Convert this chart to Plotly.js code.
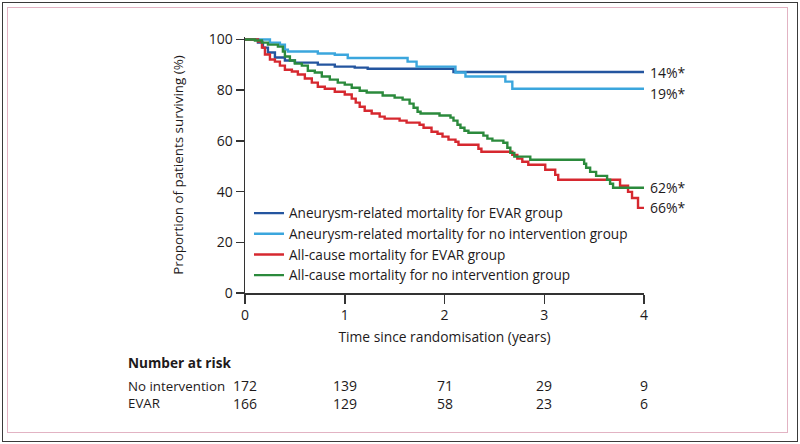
<!DOCTYPE html>
<html>
<head>
<meta charset="utf-8">
<script src="https://cdn.plot.ly/plotly-3.0.1.min.js"></script>
<style>
  html, body { margin: 0; padding: 0; background: #fff; }
  #wrap { position: relative; width: 800px; height: 444px; overflow: hidden; }
  #chart { position: absolute; left: 0; top: 0; width: 800px; height: 444px; }
  .frame { position: absolute; pointer-events: none; box-sizing: border-box; }
  #outer { left: 2px; top: 2px; width: 796px; height: 440px; border: 1.5px solid #3a3a3a; }
  #inner { left: 7px; top: 7px; width: 781px; height: 426px; border: 1.5px solid #e2b3c3; }
</style>
</head>
<body>
<div id="wrap">
  <div id="chart"></div>
  <div id="outer" class="frame"></div>
  <div id="inner" class="frame"></div>
</div>
<script>
// ---- Data ----
const seriesNames = [
  "Aneurysm-related mortality for EVAR group",
  "Aneurysm-related mortality for no intervention group",
  "All-cause mortality for EVAR group",
  "All-cause mortality for no intervention group"
];
const seriesColors = ["#24559f", "#3ba6dd", "#d6282f", "#2b8a3c"];

// Aneurysm-related, EVAR
const aneEvarT = [0, 0.13, 0.18, 0.23, 0.30, 0.40, 0.50, 0.73, 0.90, 1.10, 1.23, 2.09, 4];
const aneEvarS = [100, 98.8, 96.8, 94.9, 92.9, 91.7, 90.9, 90.1, 89.3, 88.9, 88.5, 87.2, 87.2];

// Aneurysm-related, no intervention
const aneNoT = [0, 0.25, 0.35, 0.40, 0.43, 0.73, 0.90, 1.03, 1.63, 1.72, 2.11, 2.21, 2.61, 2.68, 4];
const aneNoS = [100, 98.8, 98.0, 96.0, 95.3, 94.5, 94.0, 92.7, 91.3, 89.3, 87.0, 85.4, 83.4, 80.6, 80.6];

// All-cause, EVAR
const allEvarT = [0, 0.13, 0.17, 0.20, 0.25, 0.30, 0.35, 0.40, 0.47, 0.53, 0.60, 0.67, 0.73, 0.80, 0.90,
  1.00, 1.07, 1.11, 1.15, 1.20, 1.27, 1.35, 1.40, 1.55, 1.62, 1.75, 1.79, 1.87, 1.93, 1.98,
  2.04, 2.11, 2.14, 2.34, 2.37, 2.68, 2.73, 2.78, 2.84, 3.01, 3.11, 3.14, 3.76, 3.84, 3.88, 3.94, 4];
const allEvarS = [100, 99.2, 96.8, 94.1, 92.1, 91.3, 89.7, 88.1, 87.4, 86.2, 84.6, 83.0, 81.4, 80.6, 79.4,
  78.3, 76.7, 75.1, 73.5, 71.9, 70.8, 69.6, 68.8, 68.0, 67.2, 66.4, 65.2, 63.6, 62.8, 61.7,
  60.5, 59.7, 58.5, 56.9, 55.7, 54.5, 53.0, 51.8, 50.6, 48.6, 46.6, 44.7, 42.3, 39.9, 37.5, 33.6, 33.6];

// All-cause, no intervention
const allNoT = [0, 0.10, 0.17, 0.23, 0.33, 0.38, 0.40, 0.45, 0.50, 0.57, 0.63, 0.70, 0.77, 0.85, 0.93,
  1.00, 1.07, 1.15, 1.22, 1.38, 1.50, 1.58, 1.65, 1.69, 1.73, 1.76, 1.95, 2.06, 2.09, 2.13,
  2.16, 2.20, 2.24, 2.39, 2.43, 2.48, 2.59, 2.63, 2.66, 2.70, 2.86, 3.40, 3.42, 3.46, 3.52,
  3.63, 3.66, 3.69, 4];
const allNoS = [100, 99.6, 98.8, 98.0, 97.2, 95.3, 93.3, 91.7, 90.5, 89.7, 87.7, 87.0, 85.4, 84.2, 83.0,
  82.2, 81.0, 79.8, 79.1, 77.9, 77.1, 76.3, 74.7, 73.1, 71.5, 70.8, 70.0, 69.2, 68.0, 66.4,
  65.2, 64.0, 63.2, 62.1, 60.9, 60.1, 59.3, 57.3, 55.3, 53.8, 52.6, 51.0, 49.4, 47.8, 46.2,
  44.7, 43.1, 41.5, 41.5];

const endLabels = ["14%*", "19%*", "62%*", "66%*"];
const endLabelY = [87, 78.7, 41.5, 33.6];

const xTicks = [0, 1, 2, 3, 4];
const yTicks = [0, 20, 40, 60, 80, 100];

const riskRows = ["No intervention", "EVAR"];
const riskNoIntervention = [172, 139, 71, 29, 9];
const riskEvar = [166, 129, 58, 23, 6];

// ---- Build ----
const FONT = "Open Sans, Noto Sans, Liberation Sans, sans-serif";
const TXT = "#1e1a1b";
const allT = [aneEvarT, aneNoT, allEvarT, allNoT];
const allS = [aneEvarS, aneNoS, allEvarS, allNoS];

const traces = seriesNames.map((name, i) => ({
  type: "scatter", mode: "lines", name: name,
  x: allT[i], y: allS[i],
  line: { color: seriesColors[i], width: 2.4, shape: "hv" },
  hoverinfo: "skip"
}));

const annotations = [];
endLabels.forEach((t, i) => {
  annotations.push({
    xref: "x", yref: "y", x: 4, y: endLabelY[i], text: t, showarrow: false,
    xanchor: "left", yanchor: "middle", xshift: 4,
    font: { family: FONT, size: 14, color: TXT }
  });
});
annotations.push({
  xref: "paper", yref: "paper", x: -0.298, y: -0.273, text: "<b>Number at risk</b>",
  showarrow: false, xanchor: "left", yanchor: "middle",
  font: { family: FONT, size: 13.6, color: TXT }
});
const riskVals = [riskNoIntervention, riskEvar];
const rowY = [-0.363, -0.43];
riskRows.forEach((r, ri) => {
  annotations.push({
    xref: "paper", yref: "paper", x: -0.298, y: rowY[ri], text: r,
    showarrow: false, xanchor: "left", yanchor: "middle",
    font: { family: FONT, size: 13.3, color: TXT }
  });
  riskVals[ri].forEach((v, k) => {
    annotations.push({
      xref: "x", yref: "paper", x: xTicks[k], y: rowY[ri], text: String(v),
      showarrow: false, xanchor: "center", yanchor: "middle",
      font: { family: FONT, size: 14, color: TXT }
    });
  });
});

const layout = {
  width: 800, height: 444,
  margin: { l: 245, r: 156, t: 37, b: 151, pad: 0 },
  paper_bgcolor: "#ffffff", plot_bgcolor: "#ffffff",
  font: { family: FONT, size: 13, color: TXT },
  showlegend: true,
  legend: {
    x: 0.01, y: 0.372, xanchor: "left", yanchor: "top",
    bgcolor: "rgba(0,0,0,0)", borderwidth: 0,
    font: { family: FONT, size: 13.6, color: TXT },
    tracegroupgap: 0
  },
  xaxis: {
    range: [0, 4], tickvals: xTicks, ticktext: xTicks.map(String),
    ticks: "outside", ticklen: 9, tickwidth: 1.5, tickcolor: "#333",
    showline: true, linecolor: "#333", linewidth: 1.5,
    showgrid: false, zeroline: false,
    tickfont: { family: FONT, size: 14, color: TXT },
    title: { text: "Time since randomisation (years)", standoff: 9,
             font: { family: FONT, size: 13.8, color: TXT } }
  },
  yaxis: {
    range: [0, 101], tickvals: yTicks, ticktext: yTicks.map(String),
    ticks: "outside", ticklen: 8, tickwidth: 1.5, tickcolor: "#333",
    showline: true, linecolor: "#333", linewidth: 1.5,
    showgrid: false, zeroline: false,
    tickfont: { family: FONT, size: 14, color: TXT },
    title: { text: "Proportion of patients surviving (%)", standoff: 22,
             font: { family: FONT, size: 13.4, color: TXT } }
  },
  annotations: annotations
};

Plotly.newPlot("chart", traces, layout, { staticPlot: true, displayModeBar: false });
</script>
</body>
</html>
